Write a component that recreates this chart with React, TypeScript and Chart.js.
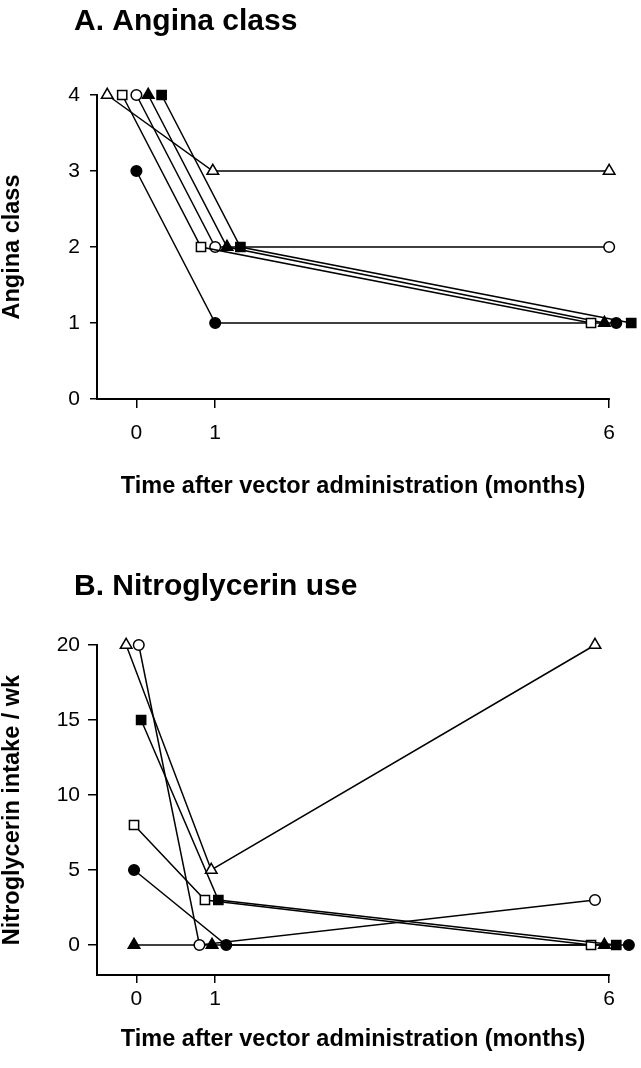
import React, { useEffect, useRef } from "react";
import { Chart, registerables } from "chart.js";

Chart.register(...registerables);
Chart.defaults.font.family = "'Liberation Sans', Arial, sans-serif";
Chart.defaults.color = "#000";

// ---------- Panel A: Angina class ----------
const titleA = "A. Angina class";
const yTitleA = "Angina class";
const xTitle = "Time after vector administration (months)";
const xTickValues = [0, 1, 6];
const xAxisStart = -0.5;
const xAxisEnd = 6;
const yTicksA = [0, 1, 2, 3, 4];

// x = plotted time position (jittered around 0, 1, 6 months), y = value
const angOpenTriX = [-0.37, 0.97, 6.0];
const angOpenTriY = [4, 3, 3];
const angOpenSqX = [-0.18, 0.82, 5.77];
const angOpenSqY = [4, 2, 1];
const angOpenCircX = [0, 1.0, 6.0];
const angOpenCircY = [4, 2, 2];
const angFillTriX = [0.15, 1.15, 5.94];
const angFillTriY = [4, 2, 1];
const angFillSqX = [0.32, 1.32, 6.28];
const angFillSqY = [4, 2, 1];
const angFillCircX = [0, 1.0, 6.09];
const angFillCircY = [3, 1, 1];

// ---------- Panel B: Nitroglycerin use ----------
const titleB = "B. Nitroglycerin use";
const yTitleB = "Nitroglycerin intake / wk";
const yTicksB = [0, 5, 10, 15, 20];

const nitOpenTriX = [-0.13, 0.95, 5.82];
const nitOpenTriY = [20, 5, 20];
const nitOpenCircX = [0.03, 0.8, 5.82];
const nitOpenCircY = [20, 0, 3];
const nitFillSqX = [0.06, 1.04, 6.09];
const nitFillSqY = [15, 3, 0];
const nitOpenSqX = [-0.03, 0.87, 5.77];
const nitOpenSqY = [8, 3, 0];
const nitFillCircX = [-0.03, 1.14, 6.25];
const nitFillCircY = [5, 0, 0];
const nitFillTriX = [-0.03, 0.96, 5.94];
const nitFillTriY = [0, 0, 0];

type Series = { xs: number[]; ys: number[]; style: string; filled: boolean };

const seriesA: Series[] = [
  { xs: angOpenTriX, ys: angOpenTriY, style: "triangle", filled: false },
  { xs: angOpenSqX, ys: angOpenSqY, style: "rect", filled: false },
  { xs: angOpenCircX, ys: angOpenCircY, style: "circle", filled: false },
  { xs: angFillTriX, ys: angFillTriY, style: "triangle", filled: true },
  { xs: angFillSqX, ys: angFillSqY, style: "rect", filled: true },
  { xs: angFillCircX, ys: angFillCircY, style: "circle", filled: true },
];

const seriesB: Series[] = [
  { xs: nitOpenTriX, ys: nitOpenTriY, style: "triangle", filled: false },
  { xs: nitOpenCircX, ys: nitOpenCircY, style: "circle", filled: false },
  { xs: nitFillSqX, ys: nitFillSqY, style: "rect", filled: true },
  { xs: nitOpenSqX, ys: nitOpenSqY, style: "rect", filled: false },
  { xs: nitFillCircX, ys: nitFillCircY, style: "circle", filled: true },
  { xs: nitFillTriX, ys: nitFillTriY, style: "triangle", filled: true },
];

const radiusFor = (s: string) => (s === "circle" ? 5.3 : s === "rect" ? 6.5 : 6.7);

function buildDatasets(series: Series[]) {
  return series.map((s, i) => ({
    label: "s" + i,
    data: s.xs.map((x, j) => ({ x, y: s.ys[j] })),
    showLine: true,
    borderColor: "#000",
    borderWidth: 1.5,
    pointStyle: s.style,
    pointRadius: radiusFor(s.style),
    pointBackgroundColor: s.filled ? "#000" : "#fff",
    pointBorderColor: "#000",
    pointBorderWidth: 1.5,
    clip: false as any,
  }));
}

const FONT = "'Liberation Sans', Arial, sans-serif";

// panel title and x-axis title, the latter centred on the drawn axis line (-0.5 .. 6)
const textPlugin = {
  id: "panelText",
  afterDraw(chart: any, _args: any, opts: any) {
    const ctx = chart.ctx;
    const xs = chart.scales.x;
    ctx.save();
    ctx.fillStyle = "#000";
    ctx.font = "bold 30px " + FONT;
    ctx.textAlign = "left";
    ctx.textBaseline = "alphabetic";
    ctx.fillText(opts.title, opts.titleX, opts.titleY);
    ctx.font = "bold 23.5px " + FONT;
    ctx.textAlign = "center";
    ctx.textBaseline = "middle";
    const cx = (xs.getPixelForValue(xAxisStart) + xs.getPixelForValue(xAxisEnd)) / 2;
    ctx.fillText(opts.xTitle, cx, xs.bottom - opts.xTitleFromBottom);
    ctx.restore();
  },
};

// x axis line that stops at the last tick (6 months) while points may lie beyond it
const xAxisLinePlugin = {
  id: "xAxisLine",
  beforeDatasetsDraw(chart: any) {
    const xs = chart.scales.x;
    const ys = chart.scales.y;
    const ctx = chart.ctx;
    ctx.save();
    ctx.strokeStyle = "#000";
    ctx.lineWidth = 2;
    ctx.beginPath();
    const y = ys.bottom;
    ctx.moveTo(xs.getPixelForValue(xAxisStart) - 1, y);
    ctx.lineTo(xs.getPixelForValue(xAxisEnd) + 0.75, y);
    ctx.stroke();
    ctx.restore();
  },
};

type PanelCfg = {
  series: Series[];
  title: string;
  titleY: number;
  yTitle: string;
  yMin: number;
  yMax: number;
  yTicks: number[];
  height: number;
  top: number;
  xHeight: number;
  xTickLen: number;
  xTickPad: number;
  xTitleFromBottom: number;
  yTickLen: number;
  yTickPad: number;
};

function Panel({ cfg }: { cfg: PanelCfg }) {
  const ref = useRef<HTMLCanvasElement>(null);
  useEffect(() => {
    if (!ref.current) return;
    const chart = new Chart(ref.current, {
      type: "scatter",
      data: { datasets: buildDatasets(cfg.series) as any },
      plugins: [textPlugin as any, xAxisLinePlugin as any],
      options: {
        animation: false,
        responsive: false,
        devicePixelRatio: 1,
        layout: { padding: { left: 0, top: cfg.top, right: 0, bottom: 0 } },
        plugins: {
          legend: { display: false },
          tooltip: { enabled: false },
          panelText: {
            title: cfg.title,
            titleX: 74,
            titleY: cfg.titleY,
            xTitle: xTitle,
            xTitleFromBottom: cfg.xTitleFromBottom,
          },
        } as any,
        scales: {
          x: {
            type: "linear",
            min: xAxisStart,
            max: 6.3,
            afterBuildTicks: (scale: any) => {
              scale.ticks = xTickValues.map((v) => ({ value: v }));
            },
            afterFit: (scale: any) => {
              scale.height = cfg.xHeight;
            },
            grid: {
              display: true,
              drawOnChartArea: false,
              drawTicks: true,
              tickLength: cfg.xTickLen,
              color: "#000",
              lineWidth: 1.5,
            },
            border: { display: false },
            ticks: {
              padding: cfg.xTickPad,
              font: { size: 21 },
              color: "#000",
              maxRotation: 0,
              autoSkip: false,
            },
            title: { display: false },
          },
          y: {
            type: "linear",
            min: cfg.yMin,
            max: cfg.yMax,
            afterBuildTicks: (scale: any) => {
              scale.ticks = cfg.yTicks.map((v) => ({ value: v }));
            },
            afterFit: (scale: any) => {
              scale.width = 97;
            },
            grid: {
              display: true,
              drawOnChartArea: false,
              drawTicks: true,
              tickLength: cfg.yTickLen,
              color: "#000",
              lineWidth: 1.5,
            },
            border: { display: true, color: "#000", width: 2 },
            ticks: {
              padding: cfg.yTickPad,
              font: { size: 21 },
              color: "#000",
              autoSkip: false,
            },
            title: {
              display: true,
              text: cfg.yTitle,
              font: { size: 23.5, weight: "bold", lineHeight: 1.1 },
              color: "#000",
              padding: { top: 0, bottom: 0 },
            },
          },
        },
      },
    });
    return () => chart.destroy();
  }, [cfg]);
  return <canvas ref={ref} width={641} height={cfg.height} style={{ display: "block" }} />;
}

const cfgA: PanelCfg = {
  series: seriesA,
  title: titleA,
  titleY: 30,
  yTitle: yTitleA,
  yMin: 0,
  yMax: 4,
  yTicks: yTicksA,
  height: 520,
  top: 95,
  xHeight: 121,
  xTickLen: 9,
  xTickPad: 13,
  xTitleFromBottom: 33,
  yTickLen: 7,
  yTickPad: 10,
};

const cfgB: PanelCfg = {
  series: seriesB,
  title: titleB,
  titleY: 75,
  yTitle: yTitleB,
  yMin: -2,
  yMax: 20,
  yTicks: yTicksB,
  height: 548,
  top: 125,
  xHeight: 93,
  xTickLen: 8,
  xTickPad: 4,
  xTitleFromBottom: 28,
  yTickLen: 9,
  yTickPad: 8,
};

export default function App() {
  return (
    <div style={{ position: "absolute", left: 0, top: 0, width: 641, height: 1068, background: "#fff" }}>
      <Panel cfg={cfgA} />
      <Panel cfg={cfgB} />
    </div>
  );
}
